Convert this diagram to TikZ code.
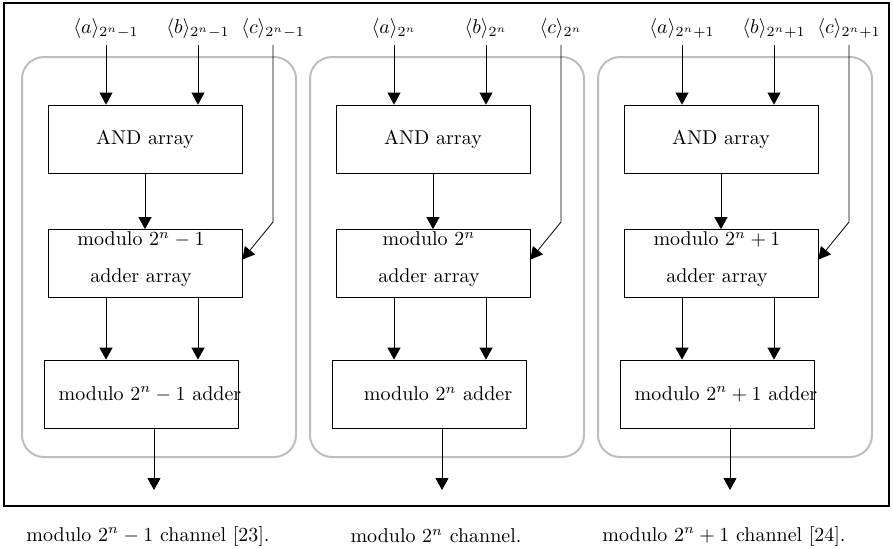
\documentclass[tikz,border=0pt]{standalone}
\usepackage{tikz}
\usepackage{xcolor}
\usepackage{amsmath}
\usetikzlibrary{arrows.meta,positioning,calc}
\definecolor{chanframe}{RGB}{190,190,190}

\begin{document}
\begin{tikzpicture}[x=0.5pt,y=-0.5pt,
    blk/.style={draw,minimum width=97pt,minimum height=34pt,inner sep=0pt,align=center},
    flow/.style={-{Triangle[width=6.5pt,length=6pt]}},
    chan/.style={draw=chanframe,line width=1pt,rounded corners=11pt}]
  \useasboundingbox (0,0) rectangle (893,548);
  \draw[line width=0.8pt] (4,3) rectangle (889,506);

  \foreach \o/\m/\i/\rf in {0/{2^n-1}/1/{~[23]}, 288/{2^n}/2/{}, 576/{2^n+1}/3/{~[24]}} {
    % channel frame
    \draw[chan] (22+\o,57) rectangle (296+\o,457);

    % inputs
    \node (ina\i) at (106+\o,28) {$\langle a\rangle_{\m}$};
    \node (inb\i) at (198+\o,28) {$\langle b\rangle_{\m}$};
    \node (inc\i) at (273+\o,28) {$\langle c\rangle_{\m}$};

    % blocks
    \node[blk] (and\i) at (145+\o,139) {AND array};
    \node[blk] (arr\i) at (145+\o,263.5) {};
    \node[align=center] (arrtxt\i) at (141+\o,259) {modulo $\m$\\[6.5pt] adder array};
    \node[blk] (add\i) at (141.5+\o,394) {};
    \node (addtxt\i) at (150+\o,394) {modulo $\m$ adder};

    \coordinate (bend\i) at (273+\o,222);
    \coordinate (out\i) at (154+\o,490);

    % connectors
    \draw[flow] (ina\i) -- (ina\i |- and\i.north);
    \draw[flow] (inb\i) -- (inb\i |- and\i.north);
    \draw[flow] (inc\i) -- (bend\i) -- ([yshift=2pt]arr\i.east);
    \draw[flow] (and\i) -- (arr\i);
    \draw[flow] (arr\i.south -| ina\i) -- (add\i.north -| ina\i);
    \draw[flow] (arr\i.south -| inb\i) -- (add\i.north -| inb\i);
    \draw[flow] (add\i.south -| out\i) -- (out\i);

    \node (cap\i) at (148+\o,536) {modulo $\m$ channel\rf.};
  }
\end{tikzpicture}
\end{document}
